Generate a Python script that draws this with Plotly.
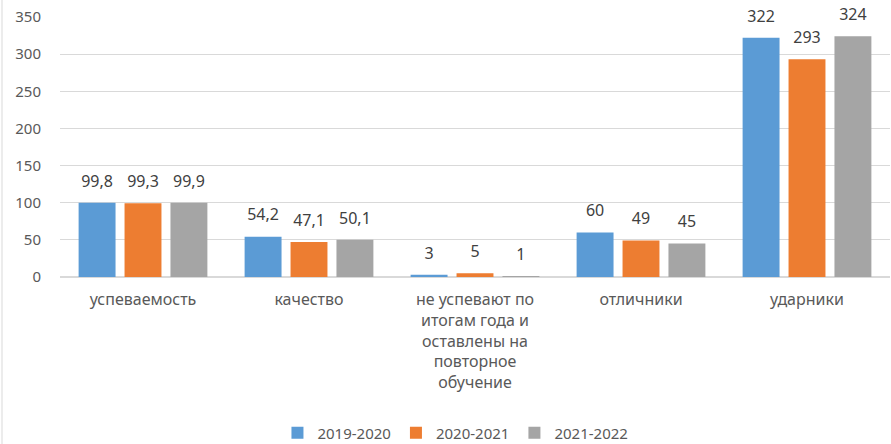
import plotly.graph_objects as go

categories = [
    "успеваемость",
    "качество",
    "не успевают по<br>итогам года и<br>оставлены на<br>повторное<br>обучение",
    "отличники",
    "ударники",
]
series_names = ["2019-2020", "2020-2021", "2021-2022"]
values_2019 = [99.8, 54.2, 3, 60, 322]
values_2020 = [99.3, 47.1, 5, 49, 293]
values_2021 = [99.9, 50.1, 1, 45, 324]
colors = ["#5B9BD5", "#ED7D31", "#A5A5A5"]
y_ticks = [0, 50, 100, 150, 200, 250, 300, 350]


def fmt(v):
    return ("%g" % v).replace(".", ",")


BARGAP = 0.17
fig = go.Figure()
for i, (name, vals, col) in enumerate(zip(series_names, [values_2019, values_2020, values_2021], colors)):
    fig.add_trace(go.Bar(
        name=name,
        x=categories,
        y=vals,
        offsetgroup=str(i),
        marker=dict(color=col, line=dict(width=0)),
        hoverinfo="y",
    ))
for i, (name, vals) in enumerate(zip(series_names, [values_2019, values_2020, values_2021])):
    fig.add_trace(go.Scatter(
        x=categories,
        y=vals,
        offsetgroup=str(i),
        mode="markers+text",
        text=[fmt(v) for v in vals],
        textposition="top center",
        marker=dict(size=18, color="rgba(0,0,0,0)", line=dict(width=0)),
        textfont=dict(family="Noto Sans", size=16, color="#404040"),
        cliponaxis=False,
        showlegend=False,
        hoverinfo="skip",
    ))

W, H = 891, 444
L, R, T, B = 60, 1, 17, 167
fig.update_layout(
    width=W, height=H,
    margin=dict(l=L, r=R, t=T, b=B, autoexpand=False),
    paper_bgcolor="white",
    plot_bgcolor="white",
    barmode="group",
    bargap=BARGAP,
    bargroupgap=0.196,
    scattermode="group",
    scattergap=BARGAP,
    font=dict(family="Noto Sans", color="#595959"),
    showlegend=True,
    legend=dict(
        orientation="h",
        x=0.262, xanchor="left",
        y=-0.60, yanchor="middle",
        font=dict(size=15, color="#595959"),
        itemwidth=30,
        traceorder="normal",
    ),
    xaxis=dict(
        showgrid=False,
        showline=False,
        ticks="",
        tickfont=dict(size=16, color="#595959"),
        tickangle=0,
        ticklabelstandoff=11,
    ),
    yaxis=dict(
        range=[0, 350],
        tickvals=y_ticks,
        showgrid=True,
        gridcolor="#D9D9D9",
        gridwidth=1,
        zeroline=True,
        zerolinecolor="#D9D9D9",
        showline=False,
        ticks="",
        ticklabelstandoff=18,
        tickfont=dict(size=15, color="#595959"),
    ),
    shapes=[dict(
        type="line", xref="paper", yref="paper",
        x0=(2 - L) / (W - L - R), x1=(2 - L) / (W - L - R),
        y0=-B / (H - T - B), y1=(H - 0) / (H - T - B),
        line=dict(color="#D9D9D9", width=1),
    )],
)

fig.write_html(
    "out.html",
    config={"displayModeBar": False},
    post_script="document.body.style.margin='0';document.body.style.overflow='hidden';",
)
